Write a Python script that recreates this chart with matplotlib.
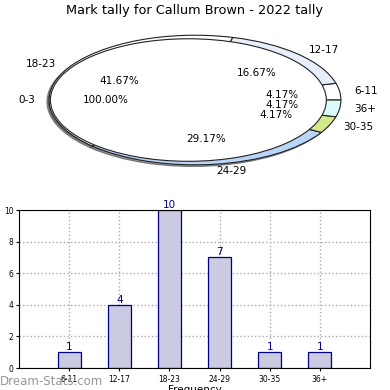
import numpy as np
import matplotlib
matplotlib.use("Agg")
import matplotlib.pyplot as plt

# tally data
groups = ['6-11', '12-17', '18-23', '24-29', '30-35', '36+']
counts = [1, 4, 10, 7, 1, 1]
ring_colors = ['#ffffff', '#e8effc', '#ffffff', '#b9d5f8', '#d3e98e', '#dafafc']
inner_labels = ['0-3']
inner_counts = [1]

fig = plt.figure(figsize=(3.9, 3.9), dpi=100)
fig.text(0.5, 0.974, 'Mark tally for Callum Brown - 2022 tally',
         ha='center', va='center', fontsize=9.3)

# pie (stretched into an ellipse)
ax1 = fig.add_axes([0.0, 0.532, 1.0, 0.423])
shadow = dict(ox=-0.012, oy=-0.02, facecolor='#555555', alpha=0.6)
ax1.pie(counts, labels=groups, colors=ring_colors, autopct='%1.2f%%',
        startangle=0, radius=1.1, pctdistance=0.6, labeldistance=1.1,
        shadow=shadow, wedgeprops=dict(edgecolor='#222222', linewidth=0.8),
        textprops=dict(fontsize=7.5))
ax1.pie(inner_counts, labels=inner_labels, colors=['#ffffff'], autopct='%1.2f%%',
        startangle=0, radius=1.04, center=(-0.05, 0), pctdistance=0.6,
        labeldistance=1.11, shadow=shadow,
        wedgeprops=dict(edgecolor='#222222', linewidth=0.8),
        textprops=dict(fontsize=7.5))
ax1.set_aspect('auto')
ax1.set_xlim(-1.47, 1.47)
ax1.set_ylim(-1.4, 1.4)

# bar chart
ax2 = fig.add_axes([0.0487, 0.0564, 0.9, 0.405])
x = np.arange(len(groups))
bars = ax2.bar(x, counts, width=0.46, color='#cacae2', edgecolor='#000080',
               linewidth=0.9, zorder=2)
for xi, c in zip(x, counts):
    ax2.text(xi, c, str(c), ha='center', va='bottom', color='#000080',
             fontsize=7.5)
ax2.set_xlim(-1, 6)
ax2.set_ylim(0, 10)
ax2.set_xticks(x)
ax2.set_xticklabels(groups, fontsize=5.5)
ax2.set_yticks(range(0, 11, 2))
ax2.tick_params(axis='y', labelsize=5.5, length=2, pad=2)
ax2.tick_params(axis='x', length=2, pad=3)
ax2.grid(True, linestyle=':', color='#aaaaaa', linewidth=1.0, zorder=0)
ax2.set_axisbelow(True)
ax2.set_xlabel('Frequency', fontsize=7.5, labelpad=1)
ax2.set_ylabel('Total Mark Tally', fontsize=7.5, labelpad=6)

fig.text(0.0, 0.023, 'Dream-Stats.com', ha='left', va='center',
         fontsize=8.5, color='#8c8c8c', alpha=0.9)

fig.savefig('out.png', dpi=100)
